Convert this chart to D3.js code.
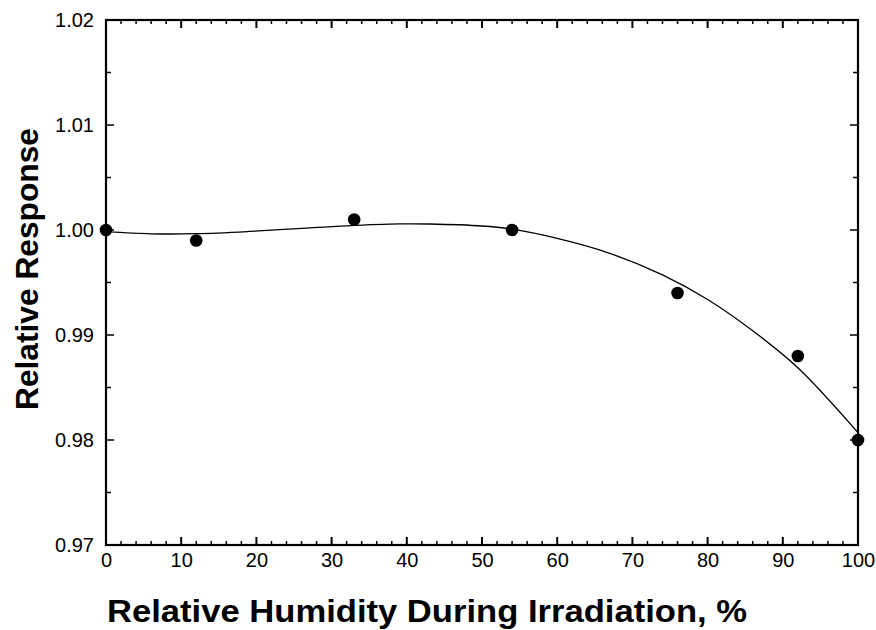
<!DOCTYPE html>
<html>
<head>
<meta charset="utf-8">
<script src="https://cdn.jsdelivr.net/npm/d3@7"></script>
<style>
    body { margin: 0; background: #fff; }
    .tick text { font-family: "Liberation Sans", Arial, sans-serif; font-size: 20px; fill: #000; }
    .title { font-family: "Liberation Sans", Arial, sans-serif; font-weight: bold; fill: #000; }
</style>
</head>
<body>
<div id="chart"></div>
<script>
// measured points
var humidity = [0, 12, 33, 54, 76, 92, 100];
var response = [1.000, 0.999, 1.001, 1.000, 0.994, 0.988, 0.980];

// fitted curve
var fitX = [0, 6, 12, 19, 26, 32, 39, 43, 50, 54, 60, 67, 74, 80, 86, 92, 100];
var fitY = [0.99984, 0.99964, 0.99965, 0.99986, 1.00016, 1.00040, 1.00058, 1.00057,
            1.00038, 1.00008, 0.99920, 0.99778, 0.99572, 0.99338, 0.99040, 0.98688, 0.98070];

var xTicks = [0, 10, 20, 30, 40, 50, 60, 70, 80, 90, 100];
var yTicks = [0.97, 0.98, 0.99, 1.00, 1.01, 1.02];

var width = 876, height = 630;
var margin = {top: 20, right: 18, bottom: 85, left: 106};

var svg = d3.select("#chart").append("svg")
    .attr("width", width)
    .attr("height", height);

var x = d3.scaleLinear().domain([0, 100]).range([margin.left, width - margin.right]);
var y = d3.scaleLinear().domain([0.97, 1.02]).range([height - margin.bottom, margin.top]);

var x0 = x.range()[0], x1 = x.range()[1], y0 = y.range()[0], y1 = y.range()[1];

// minor ticks
var xMinor = d3.range(0, 101, 2).filter(function(d) { return d % 10 != 0; });
var yMinor = [0.975, 0.985, 0.995, 1.005, 1.015];

var ticks = svg.append("g").attr("stroke", "#000");
ticks.selectAll(".xb").data(xTicks.concat(xMinor)).enter().append("line")
    .attr("x1", function(d) { return x(d); }).attr("x2", function(d) { return x(d); })
    .attr("y1", y0).attr("y2", function(d) { return y0 - (d % 10 == 0 ? 8 : 4); })
    .attr("stroke-width", function(d) { return d % 10 == 0 ? 2 : 1.5; });
ticks.selectAll(".xt").data(xTicks.concat(xMinor)).enter().append("line")
    .attr("x1", function(d) { return x(d); }).attr("x2", function(d) { return x(d); })
    .attr("y1", y1).attr("y2", function(d) { return y1 + (d % 10 == 0 ? 8 : 4); })
    .attr("stroke-width", function(d) { return d % 10 == 0 ? 2 : 1.5; });
var yAll = yTicks.map(function(d) { return [d, 8]; }).concat(yMinor.map(function(d) { return [d, 5]; }));
ticks.selectAll(".yl").data(yAll).enter().append("line")
    .attr("x1", x0).attr("x2", function(d) { return x0 + d[1]; })
    .attr("y1", function(d) { return y(d[0]); }).attr("y2", function(d) { return y(d[0]); })
    .attr("stroke-width", 1.5);
ticks.selectAll(".yr").data(yAll).enter().append("line")
    .attr("x1", x1).attr("x2", function(d) { return x1 - d[1]; })
    .attr("y1", function(d) { return y(d[0]); }).attr("y2", function(d) { return y(d[0]); })
    .attr("stroke-width", 1.5);

// axes (labels only)
var xAxis = d3.axisBottom(x).tickValues(xTicks).tickSize(0).tickPadding(8)
    .tickFormat(d3.format("d"));
svg.append("g").attr("transform", "translate(0," + y0 + ")").call(xAxis)
    .call(function(g) { g.select(".domain").remove(); });

var yAxis = d3.axisLeft(y).tickValues(yTicks).tickSize(0).tickPadding(12)
    .tickFormat(d3.format(".2f"));
svg.append("g").attr("transform", "translate(" + x0 + ",0)").call(yAxis)
    .call(function(g) { g.select(".domain").remove(); });

// frame
svg.append("rect")
    .attr("x", x0).attr("y", y1)
    .attr("width", x1 - x0).attr("height", y0 - y1)
    .attr("fill", "none").attr("stroke", "#000").attr("stroke-width", 2.2);

// fitted line
var line = d3.line()
    .x(function(d) { return x(d[0]); })
    .y(function(d) { return y(d[1]); })
    .curve(d3.curveCatmullRom);
svg.append("path")
    .datum(fitX.map(function(d, i) { return [d, fitY[i]]; }))
    .attr("d", line)
    .attr("fill", "none").attr("stroke", "#000").attr("stroke-width", 1.3);

// points
svg.selectAll(".pt").data(humidity).enter().append("circle")
    .attr("cx", function(d) { return x(d); })
    .attr("cy", function(d, i) { return y(response[i]); })
    .attr("r", 6.3).attr("fill", "#000");

// titles
svg.append("text").attr("class", "title")
    .attr("x", 427).attr("y", 622)
    .attr("text-anchor", "middle")
    .attr("font-size", 32)
    .attr("textLength", 640).attr("lengthAdjust", "spacingAndGlyphs")
    .text("Relative Humidity During Irradiation, %");

svg.append("text").attr("class", "title")
    .attr("transform", "translate(38,269) rotate(-90)")
    .attr("text-anchor", "middle")
    .attr("font-size", 32)
    .attr("textLength", 282).attr("lengthAdjust", "spacingAndGlyphs")
    .text("Relative Response");
</script>
</body>
</html>
